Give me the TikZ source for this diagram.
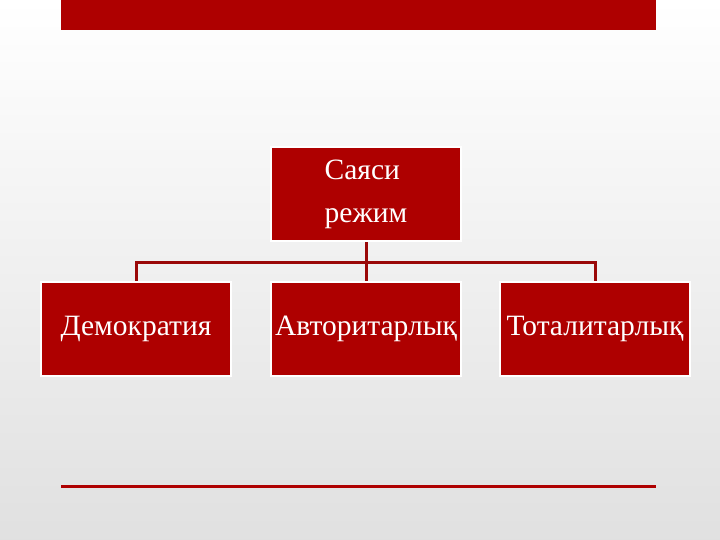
\documentclass[tikz,border=0pt]{standalone}
\usepackage{fontspec}
\setmainfont{Liberation Serif}
\usepackage{tikz}
\usetikzlibrary{%
	calc,%
	positioning%
}
\definecolor{boxred}{HTML}{AE0000}
\definecolor{linkred}{HTML}{9A0808}

\begin{document}
\begin{tikzpicture}[x=1pt, y=-1pt,
		regime/.style={rectangle, fill=boxred, draw=white, line width=2.5pt, minimum width=190pt, minimum height=94pt, inner sep=0pt, text=white, font=\fontsize{29.5}{43}\selectfont},
		link/.style={draw=linkred, line width=3pt}
	]
			
			\shade[top color=white, bottom color=black!12] (0,0) rectangle (720,540);
			\useasboundingbox (0,0) rectangle (720,540);
			
			\fill[boxred] (61,0) rectangle (656,30);
			\draw[boxred, line width=3pt] (61,486) -- (656,486);
			
			\node[regime, align=left] (top) at (366,194) {Саяси\\режим};
			\node[regime] (demo) at (136,329) {Демократия};
			\node[regime] (avto) at (366,329) {Авторитарлық};
			\node[regime] (toti) at (595,329) {Тоталитарлық};
			
			\coordinate (bus) at (366,262);
			\draw[link] (top.south) -- (avto.north);
			\draw[link] (demo.north) |- (bus) -| (toti.north);
		\end{tikzpicture}
\end{document}
